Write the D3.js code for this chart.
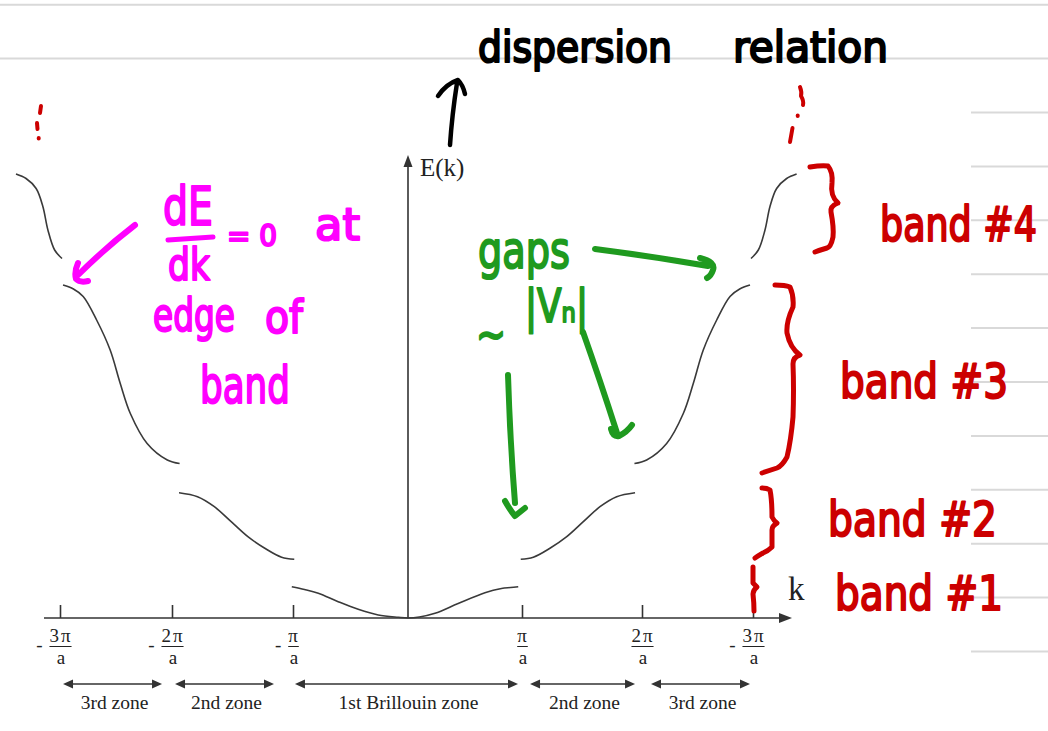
<!DOCTYPE html>
<html>
<head>
<meta charset="utf-8">
<script src="https://cdn.jsdelivr.net/npm/d3@7"></script>
<style>
  body { margin: 0; background: #fff; }
  svg { display: block; }
</style>
</head>
<body>
<script>
// band curves: k in units of pi/a, E in arbitrary units
var band1K = [-1.01, -0.9, -0.78, -0.607, -0.433, -0.259, -0.084, 0, 0.1, 0.237, 0.44, 0.675, 0.82, 0.9, 0.967];
var band1E = [6.26, 5.7, 4.94, 3.26, 1.74, 0.6, 0.14, 0, 0.2, 0.94, 2.9, 5.06, 5.9, 6.1, 6.26];

// higher bands: right branch only, the left one is its mirror image
var band2K = [0.989, 1.094, 1.233, 1.373, 1.511, 1.65, 1.789, 1.942];
var band2E = [11.74, 12.14, 13.94, 16.26, 19.26, 22.26, 24.26, 25.06];
var band3K = [1.937, 2.042, 2.222, 2.372, 2.462, 2.552, 2.673, 2.793, 2.88, 2.973];
var band3E = [30.9, 31.6, 34.9, 40.9, 46.9, 53.6, 59.6, 64.3, 65.8, 66.6];
var band4K = [2.982, 3.048, 3.108, 3.153, 3.213, 3.303, 3.393];
var band4E = [71.9, 73.6, 77.6, 82.3, 85.9, 87.9, 88.8];

// tick labels on the k axis (the sketch really has a "-" in front of the last one)
var tickKs = [-3, -2, -1, 1, 2, 3];
var tickNums = ["3π", "2π", "π", "π", "2π", "3π"];
var tickSigns = ["-", "-", "-", "", "", "-"];

// Brillouin zone arrows
var zoneNames = ["3rd zone", "2nd zone", "1st Brillouin zone", "2nd zone", "3rd zone"];
var zoneFrom = [-2.973, -1.975, -0.983, 1.067, 2.081];
var zoneTo = [-2.089, -1.157, 0.965, 1.942, 2.973];

// handwritten band labels
var bandLabels = ["band #4", "band #3", "band #2", "band #1"];

var width = 1048, height = 731;
var ink = "#333";
var serif = "'Liberation Serif', 'Times New Roman', serif";
var hand = "'DejaVu Sans', sans-serif";
var pink = "#ff00ff", green = "#1f9a1f", red = "#cc0000";

var svg = d3.select("body").append("svg")
    .attr("width", width)
    .attr("height", height);

svg.append("rect").attr("width", width).attr("height", height).attr("fill", "#fff");

// ruled notebook lines
var rules = svg.append("g").attr("stroke", "#d9d9d9").attr("stroke-width", 2);
d3.range(13).forEach(function(i) {
    var ry = 4.7 + 53.9 * i;
    rules.append("line")
        .attr("x1", i < 2 ? 0 : 971).attr("x2", width)
        .attr("y1", ry).attr("y2", ry);
});

// scales (the printed figure is not evenly spaced, so piecewise)
var x = d3.scaleLinear()
    .domain([-3, -2, -1, 0, 1, 2, 3])
    .range([60, 172, 293, 408, 522, 642, 753]);
var y = d3.scaleLinear().domain([0, 100]).range([618, 118]);

// axes
svg.append("line").attr("x1", 44).attr("x2", 785)
    .attr("y1", y(0)).attr("y2", y(0))
    .attr("stroke", ink).attr("stroke-width", 1.6);
svg.append("path")
    .attr("d", "M792," + y(0) + "L779," + (y(0) - 5) + "L779," + (y(0) + 5) + "Z")
    .attr("fill", ink);
svg.append("line").attr("x1", x(0)).attr("x2", x(0))
    .attr("y1", y(0)).attr("y2", 163)
    .attr("stroke", ink).attr("stroke-width", 1.6);
svg.append("path")
    .attr("d", "M" + x(0) + ",155L" + (x(0) - 4.5) + ",167L" + (x(0) + 4.5) + ",167Z")
    .attr("fill", ink);

var xAxis = d3.axisBottom(x).tickValues(tickKs).tickSize(-13).tickFormat("");
var gx = svg.append("g").attr("transform", "translate(0," + y(0) + ")").call(xAxis);
gx.select(".domain").remove();
gx.selectAll(".tick line").attr("stroke", ink).attr("stroke-width", 1.6);

// fraction tick labels
var labels = svg.append("g").attr("font-family", serif).attr("font-size", 19).attr("fill", "#222");
tickKs.forEach(function(k, i) {
    var cx = x(k) + 1;
    var num = labels.append("text").attr("x", cx).attr("y", 642)
        .attr("text-anchor", "middle").attr("letter-spacing", 2).text(tickNums[i]);
    var w = num.node().getComputedTextLength();
    labels.append("line").attr("x1", cx - w / 2).attr("x2", cx + w / 2 - 1)
        .attr("y1", 646.5).attr("y2", 646.5).attr("stroke", "#222").attr("stroke-width", 1);
    labels.append("text").attr("x", cx).attr("y", 664)
        .attr("text-anchor", "middle").text("a");
    if (tickSigns[i]) {
        labels.append("text").attr("x", cx - w / 2 - 7).attr("y", 651)
            .attr("text-anchor", "end").text(tickSigns[i]);
    }
});

svg.append("text").attr("x", 420).attr("y", 176)
    .attr("font-family", serif).attr("font-size", 25).attr("fill", "#222").text("E(k)");
svg.append("text").attr("x", 788).attr("y", 600)
    .attr("font-family", serif).attr("font-size", 33).attr("fill", "#222").text("k");

// zone arrows
var zones = svg.append("g");
zoneNames.forEach(function(name, i) {
    var x1 = x(zoneFrom[i]), x2 = x(zoneTo[i]), zy = 684;
    zones.append("line").attr("x1", x1 + 6).attr("x2", x2 - 6)
        .attr("y1", zy).attr("y2", zy).attr("stroke", ink).attr("stroke-width", 1.5);
    zones.append("path")
        .attr("d", "M" + x1 + "," + zy + "l10,-4.5l0,9Z M" + x2 + "," + zy + "l-10,-4.5l0,9Z")
        .attr("fill", ink);
    zones.append("text").attr("x", (x1 + x2) / 2 + 2).attr("y", 709)
        .attr("text-anchor", "middle")
        .attr("font-family", serif).attr("font-size", 19.5).attr("fill", "#222")
        .text(name);
});

// bands
var line = d3.line()
    .x(function(d) { return x(d[0]); })
    .y(function(d) { return y(d[1]); })
    .curve(d3.curveCatmullRom.alpha(0.5));

function pairs(ks, es) {
    return ks.map(function(k, i) { return [k, es[i]]; });
}
function mirror(p) {
    return p.map(function(d) { return [-d[0], d[1]]; }).reverse();
}

var branches = [pairs(band1K, band1E)];
[[band2K, band2E], [band3K, band3E], [band4K, band4E]].forEach(function(b) {
    var right = pairs(b[0], b[1]);
    branches.push(right, mirror(right));
});

svg.append("g").selectAll("path")
    .data(branches)
    .enter().append("path")
    .attr("d", line)
    .attr("fill", "none")
    .attr("stroke", "#3a3a3a")
    .attr("stroke-width", 1.6);

// handwritten notes: squeezed sideways with a transform so the box stays honest
function note(txt, tx, ty, size, len, col) {
    var t = svg.append("text").attr("x", 0).attr("y", 0)
        .attr("font-family", hand)
        .attr("font-size", size)
        .attr("fill", col).attr("stroke", col).attr("stroke-width", 2.2)
        .attr("stroke-linejoin", "round")
        .text(txt);
    var natural = t.node().getComputedTextLength();
    t.attr("transform", "translate(" + tx + "," + ty + ") scale(" + (len / natural) + ",1)");
    return t;
}
function stroke(d, col, w) {
    svg.append("path").attr("d", d).attr("fill", "none")
        .attr("stroke", col).attr("stroke-width", w)
        .attr("stroke-linecap", "round").attr("stroke-linejoin", "round");
}

// black title + arrow to E(k)
note("dispersion", 478, 62, 42, 194, "#000");
note("relation", 733, 62, 42, 155, "#000");
stroke("M450,145 Q452,115 457,83 M438,96 Q446,84 458,80 Q463,85 465,94", "#000", 4.5);

// magenta: dE/dk = 0 at edge of band
note("dE", 163, 225, 54, 50, pink);
stroke("M168,240 L213,237", pink, 5);
note("dk", 168, 280, 44, 42, pink);
note("= 0", 227, 246, 30, 50, pink);
note("at", 315, 240, 44, 45, pink);
note("edge", 153, 331, 46, 82, pink);
note("of", 265, 333, 46, 38, pink);
note("band", 200, 403, 52, 90, pink);
stroke("M135,225 Q105,248 76,277 M78,263 Q74,272 76,279 Q80,283 88,281", pink, 6);

// green: gaps ~ |Vn|
note("gaps", 478, 268, 52, 92, green);
note("~", 476, 350, 46, 30, green);
note("|Vₙ|", 525, 322, 46, 63, green);
stroke("M595,249 Q650,256 708,266 M700,258 Q716,262 713,270 Q711,276 707,278", green, 6);
stroke("M583,332 Q600,380 617,433 M611,429 Q613,437 619,436 Q627,432 632,425", green, 6);
stroke("M508,375 Q510,440 515,503 M505,501 Q510,510 515,516 Q520,512 525,508", green, 6);

// red braces and band labels
stroke("M810,167 Q822,165 828,166 Q833,172 832,183 Q830,196 838,203 Q830,206 831,212 Q834,228 833,237 Q831,247 827,248 Q820,250 815,252", red, 5);
stroke("M775,285 Q785,285 790,287 Q794,296 793,307 Q786,322 787,333 Q790,348 800,355 Q793,357 793,364 Q794,390 793,417 Q791,440 787,457 Q782,466 777,468 Q768,471 762,473", red, 5);
stroke("M762,488 Q767,488 770,490 Q772,500 772,517 Q774,521 777,523 Q772,526 772,530 Q772,540 772,547 Q768,551 763,553 Q758,556 755,558", red, 5);
stroke("M753,567 Q753,575 753,583 Q755,585 757,587 Q753,590 753,594 Q754,603 754,611", red, 5);
note(bandLabels[0], 880, 241, 48, 157, red);
note(bandLabels[1], 840, 398, 48, 168, red);
note(bandLabels[2], 828, 536, 48, 169, red);
note(bandLabels[3], 835, 610, 48, 168, red);

// red "continues upward" dots
stroke("M41,106 L40,113 M37,123 L37.5,129 M38.7,138 L38.7,138.5", red, 4);
stroke("M800,87 Q802,92 801,96 Q804,101 803,105 M797.7,115.5 L797.7,116 M792.5,128 L790,142", red, 4);
</script>
</body>
</html>
